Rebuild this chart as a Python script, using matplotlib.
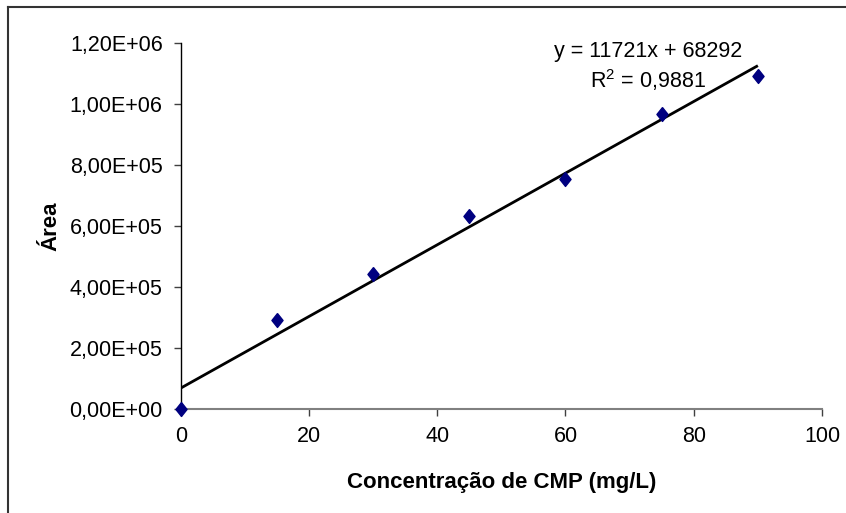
import numpy as np
import matplotlib
matplotlib.use("Agg")
import matplotlib.pyplot as plt
from matplotlib.lines import Line2D
from matplotlib.ticker import FuncFormatter

# Data
concentracao = [0, 15, 30, 45, 60, 75, 90]
area = [0, 292000, 442000, 633000, 753000, 965000, 1091000]
equation_text = "y = 11721x + 68292"
r2_text = "R$^2$ = 0,9881"
x_ticks = [0, 20, 40, 60, 80, 100]
y_ticks = [0, 200000, 400000, 600000, 800000, 1000000, 1200000]

plt.rcParams['font.family'] = ['Liberation Sans', 'DejaVu Sans']
plt.rcParams['mathtext.fontset'] = 'custom'
plt.rcParams['mathtext.rm'] = 'Liberation Sans'

fig = plt.figure(figsize=(8.46, 5.13), dpi=100)
ax = fig.add_axes([180.7/846, 1-409/513, (822-180.7)/846, (409-42.7)/513])

# Trendline (linear fit)
slope, intercept = np.polyfit(concentracao, area, 1)
xs = np.array([min(concentracao), max(concentracao)])
ax.plot(xs, slope*xs + intercept, color='black', lw=2.0, zorder=2, solid_capstyle='butt')

diamond = [(0, 1), (0.8, 0), (0, -1), (-0.8, 0), (0, 1)]
ax.plot(concentracao, area, linestyle='none', marker=diamond, markersize=10,
        color='#000080', markeredgecolor='#000080', zorder=3, clip_on=False)

ax.set_xlim(0, 100)
ax.set_ylim(0, 1.2e6)
ax.set_xticks(x_ticks)
ax.set_yticks(y_ticks)

def fmt(v, pos):
    s = "{:.2E}".format(v)
    return s.replace('.', ',')
ax.yaxis.set_major_formatter(FuncFormatter(fmt))

for s in ['top', 'right']:
    ax.spines[s].set_visible(False)
ax.spines['left'].set_color('black')
ax.spines['left'].set_linewidth(1.0)
ax.spines['bottom'].set_color('#808080')
ax.spines['bottom'].set_linewidth(1.5)

ax.tick_params(axis='y', direction='out', length=5, width=1, color='#404040',
               labelsize=15.5, pad=8)
ax.tick_params(axis='x', direction='out', length=5, width=1, color='#404040',
               labelsize=15.5, pad=7)

ax.set_xlabel("Concentração de CMP (mg/L)", fontsize=16, fontweight='bold', labelpad=18)
ax.set_ylabel("Área", fontsize=16, fontweight='bold', labelpad=6)

ax.text(648/846, 1-52/513, equation_text, transform=fig.transFigure, ha='center', va='center', fontsize=15.5)
ax.text(648/846, 1-80/513, r2_text, transform=fig.transFigure, ha='center', va='center', fontsize=15.5)

# figure border (left and top visible)
fig.add_artist(Line2D([8/846, 8/846], [0, 1-7/513], transform=fig.transFigure, color='#333333', lw=1.5))
fig.add_artist(Line2D([8/846, 1], [1-7/513, 1-7/513], transform=fig.transFigure, color='#333333', lw=1.5))

fig.savefig("out.png", dpi=100)
